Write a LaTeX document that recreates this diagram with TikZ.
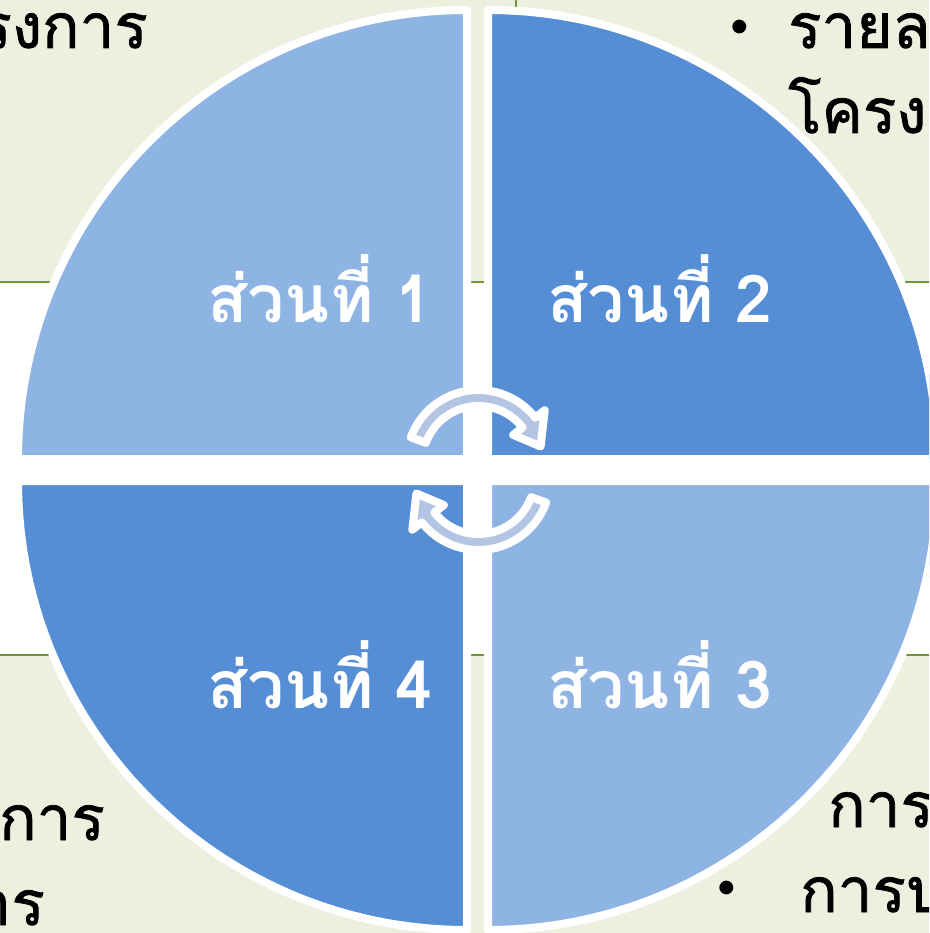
\documentclass[tikz,border=0pt]{standalone}
\usepackage{fontspec}
\newfontfamily\thaifont[Script=Thai]{Loma}
\newfontfamily\thaifontmed[Script=Thai,FakeBold=1.2]{Loma}
\usetikzlibrary{shadows}
\definecolor{bg}{HTML}{EBF1DE}
\definecolor{olive}{HTML}{77933C}
\definecolor{qlight}{HTML}{8EB4E3}
\definecolor{qdark}{HTML}{558ED5}
\definecolor{arrowfill}{HTML}{B3C5E3}
\tikzset{
  quad/.style={draw=white, line width=8pt, line join=round,
    drop shadow={shadow xshift=2pt, shadow yshift=-3pt, opacity=0.25, fill=black}},
  cyclearrow/.style={fill=arrowfill, draw=white, line width=8pt, line join=round,
    drop shadow={shadow xshift=2pt, shadow yshift=-3pt, opacity=0.2, fill=black}},
  lbl/.style={anchor=base, text=white, inner sep=0pt, font=\thaifont\bfseries\fontsize{66}{66}\selectfont},
  bgtext/.style={inner sep=0pt, text=black, font=\thaifontmed\fontsize{62}{62}\selectfont},
  bullet/.style={inner sep=0pt, text=black, font=\fontsize{62}{62}\selectfont},
  rule/.style={draw=olive, line width=1.5pt}
}
\begin{document}
\begin{tikzpicture}[x=1pt,y=-1pt]
\useasboundingbox (0,0) rectangle (929,933);
\clip (0,0) rectangle (929,933);
% background bands
\fill[bg] (0,0) rectangle (929,282);
\fill[white] (0,282) rectangle (929,655);
\fill[bg] (0,655) rectangle (929,933);
\draw[rule] (0,282) -- (929,282);
\draw[rule] (0,655) -- (929,655);
\draw[rule] (516,0) -- (516,8);
% background texts
\node[bgtext, anchor=base east] (tl) at (148,48) {โครงการ};
\node[bullet, anchor=center] (b1) at (740,32) {\textbullet};
\node[bgtext, anchor=base west] (tr1) at (788,48) {รายละเอียด};
\node[bgtext, anchor=base west] (tr2) at (788,133) {โครงการ};
\node[bgtext, anchor=base east] (bl1) at (105,840) {ผลการ};
\node[bgtext, anchor=base east] (bl2) at (45,925) {การ};
\node[bgtext, anchor=base west] (br1) at (828,827) {การดำเนินงาน};
\node[bullet, anchor=center] (b2) at (727,893) {\textbullet};
\node[bgtext, anchor=base west] (br2) at (800,912) {การประเมินผล};
% quadrants
\path[quad, fill=qlight] (467,459) -- (18,459) arc[start angle=180, end angle=270, radius=449] -- cycle;
\path[quad, fill=qdark] (488,459) -- (488,10) arc[start angle=270, end angle=360, radius=449] -- cycle;
\path[quad, fill=qdark] (467,481) -- (467,930) arc[start angle=90, end angle=180, radius=449] -- cycle;
\path[quad, fill=qlight] (488,481) -- (937,481) arc[start angle=0, end angle=90, radius=449] -- cycle;
% labels
\node[lbl] (s1) at (320,322) {ส่วนที่ 1};
\node[lbl] (s2) at (660,322) {ส่วนที่ 2};
\node[lbl] (s3) at (660,708) {ส่วนที่ 3};
\node[lbl] (s4) at (320,708) {ส่วนที่ 4};
% cycle arrows
\begin{scope}[shift={(478.5,462)}]
\path[cyclearrow] (200:72) arc[start angle=200, end angle=322, radius=72]
  -- (322:84) -- (346:64) -- (322:44) -- (322:56)
  arc[start angle=322, end angle=200, radius=56] -- cycle;
\end{scope}
\begin{scope}[shift={(478.5,478)}]
\path[cyclearrow] (20:72) arc[start angle=20, end angle=142, radius=72]
  -- (142:84) -- (166:64) -- (142:44) -- (142:56)
  arc[start angle=142, end angle=20, radius=56] -- cycle;
\end{scope}
\end{tikzpicture}
\end{document}
